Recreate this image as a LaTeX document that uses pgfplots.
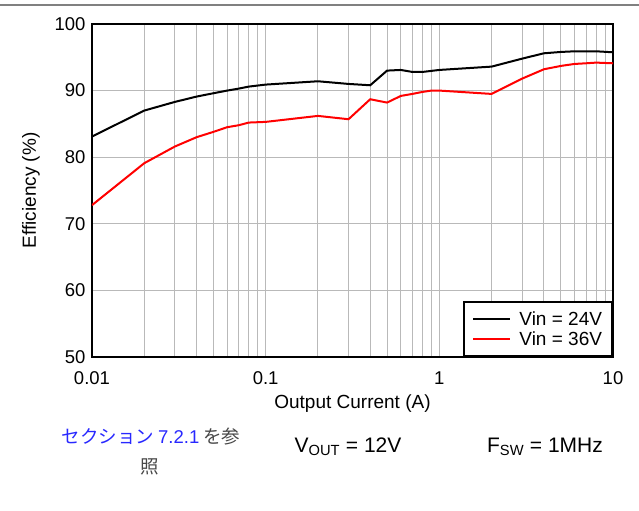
\documentclass[border=0pt]{standalone}
\usepackage{fontspec}
\setmainfont{Liberation Sans}
\newfontfamily\jpfont{Noto Sans CJK JP}
\usepackage{pgfplots}
\pgfplotsset{compat=1.18}

\definecolor{linkblue}{RGB}{40,40,255}
\definecolor{jpgray}{RGB}{70,70,70}
\definecolor{gridgray}{RGB}{185,185,185}

\newcommand{\tickfont}{\fontsize{18.5bp}{21bp}\selectfont}
\newcommand{\lblfont}{\fontsize{19bp}{22bp}\selectfont}

\begin{document}
\begin{tikzpicture}[x=1bp,y=1bp]
\path[use as bounding box] (0,0) rectangle (639,511);
\draw[gray, line width=1.5bp] (0,506) -- (639,506);

\begin{axis}[
  at={(92bp,154bp)}, anchor=south west,
  scale only axis, width=521bp, height=333bp,
  xmode=log, xmin=0.01, xmax=10, ymin=50, ymax=100,
  xtick={0.01,0.1,1,10}, xticklabels={0.01,0.1,1,10},
  ytick={50,60,70,80,90,100},
  grid=both,
  major grid style={draw=gridgray, line width=0.9bp},
  minor grid style={draw=gridgray, line width=0.9bp},
  axis line style={line width=2.2bp},
  major tick length=0pt, minor tick length=0pt,
  /pgf/number format/assume math mode=true,
  ticklabel style={font=\tickfont},
  xticklabel style={yshift=-11bp},
  yticklabel style={xshift=-3bp},
  label style={font=\lblfont},
  xlabel={Output Current (A)},
  ylabel={Efficiency (\%)},
  xlabel style={yshift=-3bp},
  ylabel style={yshift=8bp},
  legend style={at={(rel axis cs:1,0)}, anchor=south east,
    draw=black, line width=2bp, font=\lblfont,
    inner xsep=8bp, inner ysep=7bp, row sep=1bp,
    /tikz/every odd column/.append style={column sep=6bp}},
  legend cell align=left,
  legend image code/.code={\draw[#1, line width=2bp] (0bp,0bp) -- (37bp,0bp);},
]
\addplot[black, line width=2bp] coordinates {
 (0.01,83.1) (0.02,87.0) (0.03,88.3) (0.04,89.1) (0.05,89.6) (0.06,90.0)
 (0.07,90.3) (0.08,90.6) (0.1,90.9) (0.2,91.4) (0.3,91.0) (0.4,90.8)
 (0.5,93.0) (0.6,93.1) (0.7,92.8) (0.8,92.8) (1,93.1) (2,93.6)
 (3,94.8) (4,95.6) (5,95.8) (6,95.9) (7,95.9) (8,95.9) (10,95.75)
};
\addlegendentry{Vin = 24V}
\addplot[red, line width=2bp] coordinates {
 (0.01,72.8) (0.02,79.1) (0.03,81.6) (0.04,83.0) (0.05,83.8) (0.06,84.5)
 (0.07,84.8) (0.08,85.2) (0.1,85.3) (0.2,86.2) (0.3,85.7) (0.4,88.7)
 (0.5,88.2) (0.6,89.2) (0.7,89.5) (0.8,89.8) (0.9,90.0) (1,90.0)
 (2,89.5) (3,91.8) (4,93.2) (5,93.7) (6,94.0) (7,94.1) (8,94.2) (10,94.1)
};
\addlegendentry{Vin = 36V}
\end{axis}

\node[font=\fontsize{18.5bp}{22bp}\selectfont] at (151,74)
  {\jpfont\color{linkblue}セクション {\rmfamily 7.2.1} \color{jpgray}を参};
\node[font=\fontsize{18.5bp}{22bp}\selectfont, text=jpgray] at (150,44) {\jpfont 照};
\node[font=\fontsize{21bp}{24bp}\selectfont] at (348,64) {V\textsubscript{OUT} = 12V};
\node[font=\fontsize{21bp}{24bp}\selectfont] at (545,64) {F\textsubscript{SW} = 1MHz};
\end{tikzpicture}
\end{document}
